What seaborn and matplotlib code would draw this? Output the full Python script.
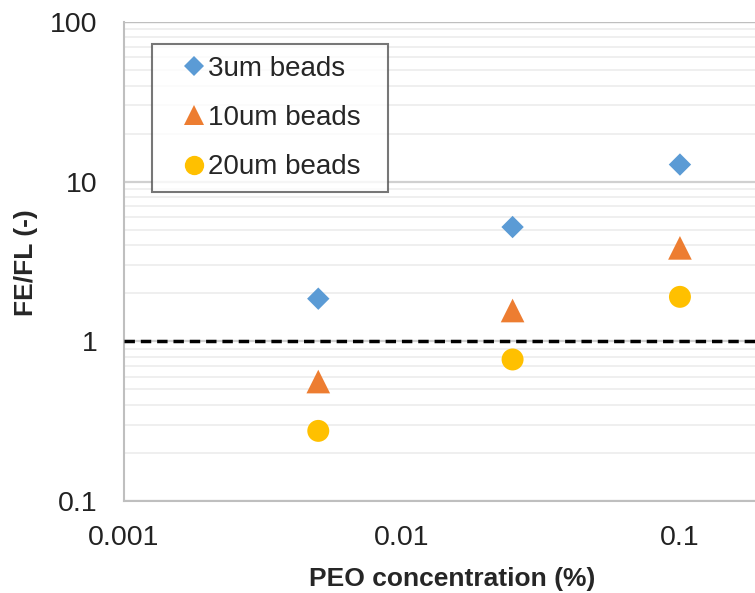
import numpy as np
import pandas as pd
import seaborn as sns
import matplotlib.pyplot as plt
from matplotlib.ticker import LogLocator, NullFormatter, FixedLocator, FixedFormatter

# values
peo = [0.005, 0.025, 0.1]
beads_3um = [1.85, 5.2, 12.8]
beads_10um = [0.56, 1.56, 3.85]
beads_20um = [0.275, 0.77, 1.9]
series = ['3um beads', '10um beads', '20um beads']

df = pd.DataFrame({
    'PEO': peo * 3,
    'ratio': beads_3um + beads_10um + beads_20um,
    'beads': [s for s in series for _ in peo],
})

sns.set_style('white')
plt.rcParams['font.family'] = ['Liberation Sans', 'DejaVu Sans']

fig = plt.figure(figsize=(7.55, 5.93), dpi=100)
ax = fig.add_axes([0.1642, 0.1551, 0.8358, 0.8078])

palette = {'3um beads': '#5B9BD5', '10um beads': '#ED7D31', '20um beads': '#FFC000'}
markers = {'3um beads': 'D', '10um beads': '^', '20um beads': 'o'}
sizes = {'3um beads': 130, '10um beads': 290, '20um beads': 250}
sns.scatterplot(data=df, x='PEO', y='ratio', hue='beads', style='beads', size='beads',
                palette=palette, markers=markers, sizes=sizes, linewidth=0,
                ax=ax, zorder=3)

ax.set_xscale('log')
ax.set_yscale('log')
ax.set_xlim(0.001, 10 ** -0.73)
ax.set_ylim(0.1, 100)

# excel-like gridlines: minor light grey, major slightly darker, horizontal only
ax.yaxis.set_minor_locator(LogLocator(base=10, subs=np.arange(2, 10)))
ax.yaxis.set_minor_formatter(NullFormatter())
ax.grid(axis='y', which='minor', color='#ececec', linewidth=1.2)
ax.grid(axis='y', which='major', color='#d0d0d0', linewidth=1.6)
ax.grid(axis='x', which='both', visible=False)

ax.axhline(1, color='black', linestyle=(0, (3, 1.7)), linewidth=2.5, zorder=4)

ax.yaxis.set_major_locator(FixedLocator([0.1, 1, 10, 100]))
ax.yaxis.set_major_formatter(FixedFormatter(['0.1', '1', '10', '100']))
ax.xaxis.set_major_locator(FixedLocator([0.001, 0.01, 0.1]))
ax.xaxis.set_major_formatter(FixedFormatter(['0.001', '0.01', '0.1']))
ax.xaxis.set_minor_locator(FixedLocator([]))
ax.tick_params(axis='both', which='both', length=0, labelsize=20.5, colors='#222222')
ax.tick_params(axis='y', pad=19)
ax.tick_params(axis='x', pad=17)

for side in ['top', 'right']:
    ax.spines[side].set_visible(False)
for side in ['left', 'bottom']:
    ax.spines[side].set_color('#bfbfbf')
    ax.spines[side].set_linewidth(1.5)
ax.axhline(100, color='#bfbfbf', linewidth=1.6, zorder=2)

ax.set_xlabel('PEO concentration (%)', fontsize=19, fontweight='bold')
ax.set_ylabel('FE/FL (-)', fontsize=19, fontweight='bold')
ax.xaxis.set_label_coords(0.52, -0.137)
ax.yaxis.set_label_coords(-0.137, 0.497)

leg = ax.legend(loc='upper left', bbox_to_anchor=(0.044, 0.0, 0.374, 0.954), mode='expand',
                borderaxespad=0, fontsize=20, frameon=True, fancybox=False,
                handletextpad=-0.6, handlelength=2.2, labelspacing=0.84,
                borderpad=0.42, markerscale=0.88)
leg.get_frame().set_edgecolor('#555555')
leg.get_frame().set_linewidth(1.5)

fig.savefig('out.png', dpi=100)
